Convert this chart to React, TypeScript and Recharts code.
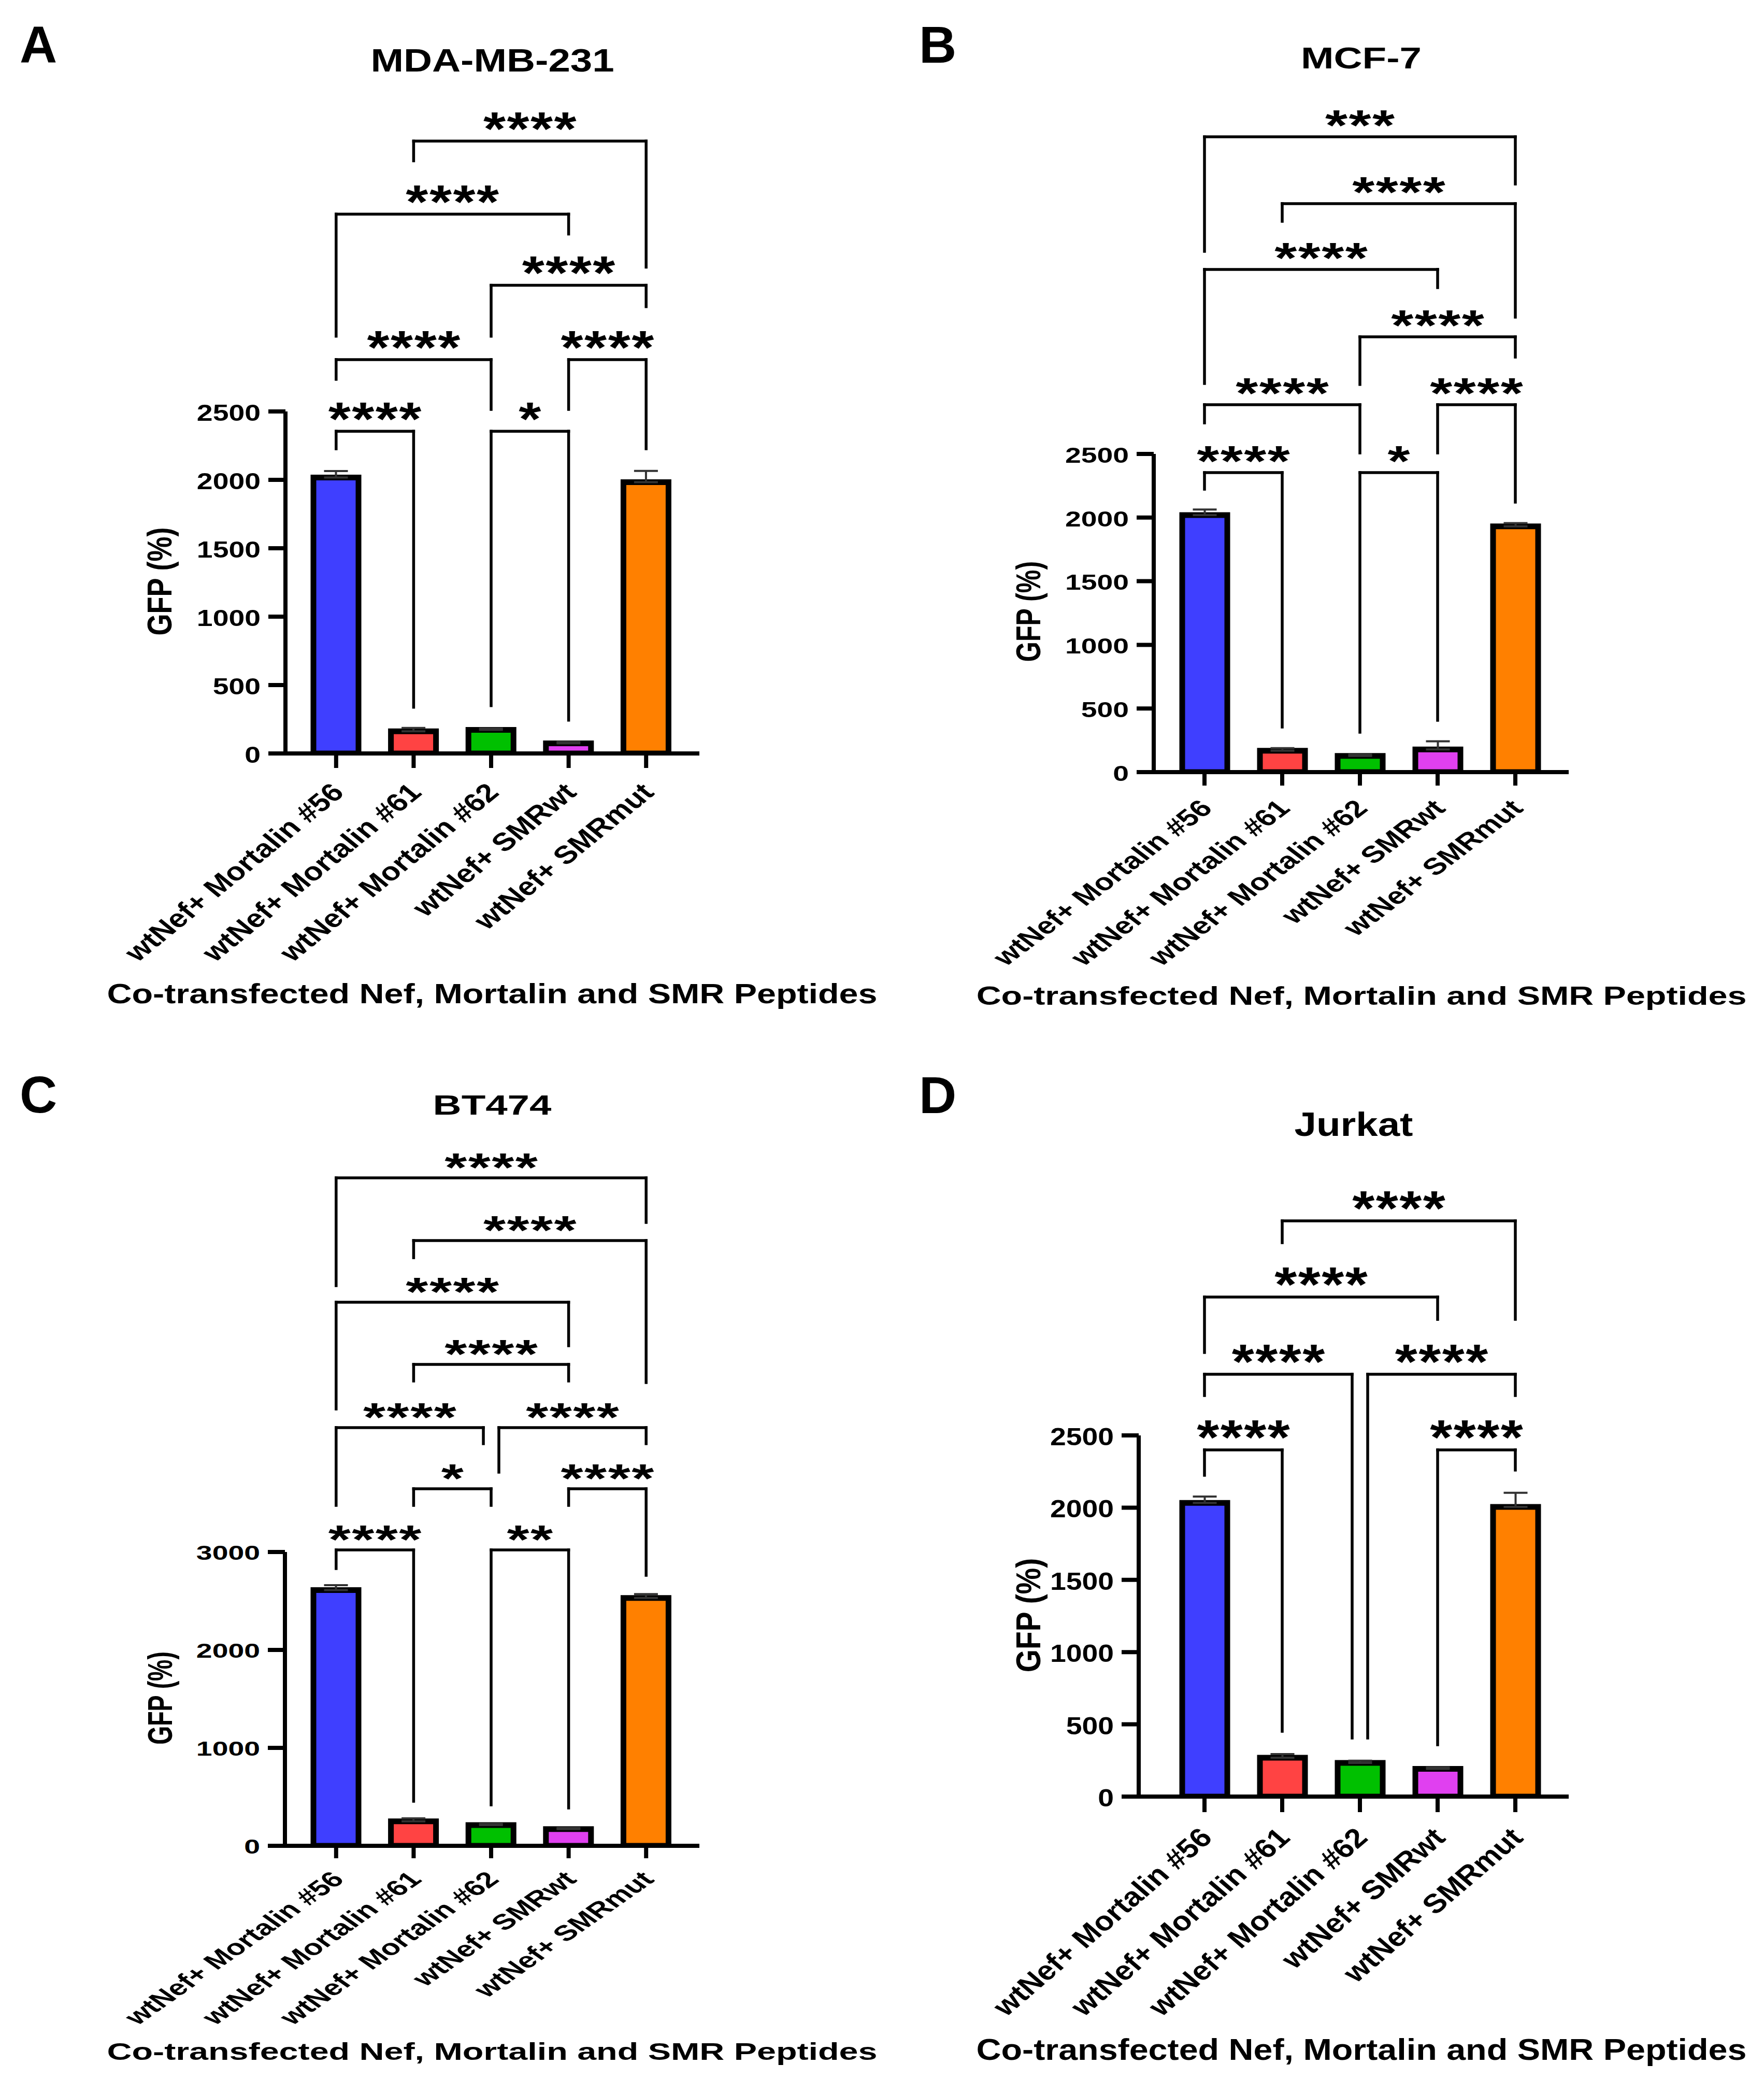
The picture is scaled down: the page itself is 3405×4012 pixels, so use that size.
import React from 'react';
import { BarChart, Bar, XAxis, YAxis, ErrorBar, ReferenceLine, Cell } from 'recharts';

// ---------------- data ----------------
const categories = [
  'wtNef+ Mortalin #56',
  'wtNef+ Mortalin #61',
  'wtNef+ Mortalin #62',
  'wtNef+ SMRwt',
  'wtNef+ SMRmut',
];

const mdaValues = [2017, 162, 172, 74, 1983];
const mdaErrors = [47, 25, 10, 10, 82];
const mcfValues = [2020, 168, 127, 178, 1931];
const mcfErrors = [43, 20, 10, 64, 25];
const btValues = [2611, 250, 212, 170, 2530];
const btErrors = [50, 30, 12, 12, 40];
const jurkatValues = [2033, 269, 233, 192, 2005];
const jurkatErrors = [44, 25, 15, 10, 98];

const ticks2500 = [0, 500, 1000, 1500, 2000, 2500];
const ticks3000 = [0, 1000, 2000, 3000];

// significance brackets: groups x1 -> x2 (with small shifts d1/d2 in group widths),
// bracket level y, leg ends b1 / b2
const mdaBrackets = [
  { x1: 0, x2: 1, d1: 0, d2: 0, y: 2355, b1: 2227, b2: 338, label: '****' },
  { x1: 0, x2: 2, d1: 0, d2: 0, y: 2879, b1: 2735, b2: 2515, label: '****' },
  { x1: 2, x2: 3, d1: 0, d2: 0, y: 2355, b1: 349, b2: 243, label: '*' },
  { x1: 3, x2: 4, d1: 0, d2: 0, y: 2879, b1: 2515, b2: 2227, label: '****' },
  { x1: 2, x2: 4, d1: 0, d2: 0, y: 3422, b1: 3050, b2: 3266, label: '****' },
  { x1: 0, x2: 3, d1: 0, d2: 0, y: 3942, b1: 3050, b2: 3797, label: '****' },
  { x1: 1, x2: 4, d1: 0, d2: 0, y: 4476, b1: 4332, b2: 3555, label: '****' },
];
const mcfBrackets = [
  { x1: 0, x2: 1, d1: 0, d2: 0, y: 2353, b1: 2223, b2: 354, label: '****' },
  { x1: 0, x2: 2, d1: 0, d2: 0, y: 2887, b1: 2744, b2: 2508, label: '****' },
  { x1: 2, x2: 3, d1: 0, d2: 0, y: 2353, b1: 314, b2: 407, label: '*' },
  { x1: 3, x2: 4, d1: 0, d2: 0, y: 2887, b1: 2508, b2: 2121, label: '****' },
  { x1: 2, x2: 4, d1: 0, d2: 0, y: 3420, b1: 3046, b2: 3261, label: '****' },
  { x1: 0, x2: 3, d1: 0, d2: 0, y: 3950, b1: 3054, b2: 3807, label: '****' },
  { x1: 1, x2: 4, d1: 0, d2: 0, y: 4467, b1: 4328, b2: 3575, label: '****' },
  { x1: 0, x2: 4, d1: 0, d2: 0, y: 4992, b1: 4092, b2: 4621, label: '***' },
];
const btBrackets = [
  { x1: 0, x2: 1, d1: 0, d2: 0, y: 3021, b1: 2831, b2: 455, label: '****' },
  { x1: 1, x2: 2, d1: 0, d2: 0, y: 3646, b1: 3476, b2: 3476, label: '*' },
  { x1: 2, x2: 3, d1: 0, d2: 0, y: 3021, b1: 418, b2: 386, label: '**' },
  { x1: 3, x2: 4, d1: 0, d2: 0, y: 3646, b1: 3476, b2: 2762, label: '****' },
  { x1: 0, x2: 2, d1: 0, d2: -0.1, y: 4270, b1: 3476, b2: 4106, label: '****' },
  { x1: 2, x2: 4, d1: 0.1, d2: 0, y: 4270, b1: 3815, b2: 4106, label: '****' },
  { x1: 1, x2: 3, d1: 0, d2: 0, y: 4915, b1: 4746, b2: 4746, label: '****' },
  { x1: 0, x2: 3, d1: 0, d2: 0, y: 5550, b1: 4460, b2: 5106, label: '****' },
  { x1: 1, x2: 4, d1: 0, d2: 0, y: 6180, b1: 6005, b2: 4730, label: '****' },
  { x1: 0, x2: 4, d1: 0, d2: 0, y: 6820, b1: 5720, b2: 6365, label: '****' },
];
const jurkatBrackets = [
  { x1: 0, x2: 1, d1: 0, d2: 0, y: 2400, b1: 2224, b2: 452, label: '****' },
  { x1: 0, x2: 2, d1: 0, d2: -0.1, y: 2923, b1: 2776, b2: 405, label: '****' },
  { x1: 2, x2: 4, d1: 0.1, d2: 0, y: 2923, b1: 405, b2: 2776, label: '****' },
  { x1: 3, x2: 4, d1: 0, d2: 0, y: 2400, b1: 359, b2: 2260, label: '****' },
  { x1: 0, x2: 3, d1: 0, d2: 0, y: 3458, b1: 3074, b2: 3303, label: '****' },
  { x1: 1, x2: 4, d1: 0, d2: 0, y: 3985, b1: 3834, b2: 3303, label: '****' },
];

// ---------------- styles ----------------
const barColors = ['#3F3FFF', '#FF4343', '#00C000', '#E040F0', '#FF8000'];
const FONT = '"Liberation Sans", Arial, Helvetica, sans-serif';
const K = 1.23; // horizontal text stretch of the original figure
const XH = 300;
const YW = 200;

const panels = [
  {
    key: 'A', letter: 'A', title: 'MDA-MB-231', left: 0, top: 0, width: 1700, height: 2000, vs: 1.0,
    plot: { l: 551, t: 794, r: 1350, b: 1454 }, pl: 23, pr: 28,
    titleY: 138, letterX: 38, letterY: 121, ylabX: 308, ylabY: 1122, xtitleY: 1936, xtitleX: 950,
    values: mdaValues, errors: mdaErrors, brackets: mdaBrackets, ticks: ticks2500, max: 2500,
  },
  {
    key: 'B', letter: 'B', title: 'MCF-7', left: 1700, top: 0, width: 1705, height: 2000, vs: 0.93,
    plot: { l: 527, t: 876, r: 1328, b: 1490 }, pl: 23, pr: 28,
    titleY: 132, letterX: 74, letterY: 121, ylabX: 285, ylabY: 1180, xtitleY: 1939, xtitleX: 928,
    values: mcfValues, errors: mcfErrors, brackets: mcfBrackets, ticks: ticks2500, max: 2500,
  },
  {
    key: 'C', letter: 'C', title: 'BT474', left: 0, top: 2000, width: 1700, height: 2012, vs: 0.86,
    plot: { l: 550, t: 995, r: 1350, b: 1562 }, pl: 24, pr: 28,
    titleY: 151, letterX: 38, letterY: 147, ylabX: 309, ylabY: 1277, xtitleY: 1975, xtitleX: 950,
    values: btValues, errors: btErrors, brackets: btBrackets, ticks: ticks3000, max: 3000,
  },
  {
    key: 'D', letter: 'D', title: 'Jurkat', left: 1700, top: 2000, width: 1705, height: 2012, vs: 1.055,
    plot: { l: 498, t: 770, r: 1328, b: 1467 }, pl: 52, pr: 28,
    titleY: 192, letterX: 74, letterY: 148, ylabX: 285, ylabY: 1117, xtitleY: 1975, xtitleX: 928,
    values: jurkatValues, errors: jurkatErrors, brackets: jurkatBrackets, ticks: ticks2500, max: 2500,
  },
];

const YTick = (props: any) => {
  const { x, y, payload, vs } = props;
  return (
    <g transform={`translate(${x},${y}) scale(${K},${vs})`}>
      <text x={0} y={0} dy={18} textAnchor="end" fontFamily={FONT} fontWeight="bold" fontSize={45} fill="#000">
        {payload.value}
      </text>
    </g>
  );
};

const XTick = (props: any) => {
  const { x, y, payload, vs, tickLen } = props;
  const dy = 78 * vs - tickLen;
  return (
    <g transform={`translate(${x + 18},${y + dy}) scale(${K},${vs}) rotate(-45)`}>
      <text x={0} y={0} textAnchor="end" fontFamily={FONT} fontWeight="bold" fontSize={49} fill="#000">
        {payload.value}
      </text>
    </g>
  );
};

const STAR_F = 90;
const STAR_LS = 2;
const StarLabel = (props: any) => {
  const vb = props.viewBox || {};
  const vs = props.vs || 1;
  const cx = (vb.x || 0) + (vb.width || 0) / 2 + (props.shift || 0);
  const ly = vb.y || 0;
  const base = ly + vs * (0.553 * STAR_F - 42);
  return (
    <g transform={`translate(${cx},${base}) scale(${K},${vs})`}>
      <text x={STAR_LS / 2} y={0} textAnchor="middle" fontFamily={FONT} fontWeight="bold" fontSize={STAR_F} letterSpacing={STAR_LS} fill="#000">
        {props.text}
      </text>
    </g>
  );
};

const LINE_W = 5.5;
const shiftedLine = (o1: number, o2: number) => (p: any) => (
  <line
    x1={p.x1 + o1}
    y1={p.y1}
    x2={p.x2 + o2}
    y2={p.y2}
    stroke="#000"
    strokeWidth={LINE_W}
    strokeLinecap="square"
  />
);

function Panel({ cfg }: { cfg: any }) {
  const { plot, width, height, pl, pr, vs } = cfg;
  const data = categories.map((name, i) => ({ name, value: cfg.values[i], err: [0, cfg.errors[i]] }));
  const plotW = plot.r - plot.l;
  const band = (plotW - pl - pr) / categories.length;
  const margin = { top: plot.t, right: width - plot.r, bottom: height - plot.b - XH, left: plot.l - YW };
  const plotCx = (plot.l + plot.r) / 2;
  const tickLen = Math.round(28 * vs);

  const refs: any[] = [];
  cfg.brackets.forEach((b: any, i: number) => {
    const c1 = categories[b.x1];
    const c2 = categories[b.x2];
    const o1 = b.d1 * band;
    const o2 = b.d2 * band;
    refs.push(
      <ReferenceLine
        key={`h${i}`}
        ifOverflow="visible"
        segment={[{ x: c1, y: b.y }, { x: c2, y: b.y }]}
        shape={shiftedLine(o1, o2)}
        label={(p: any) => <StarLabel {...p} text={b.label} shift={(o1 + o2) / 2} vs={vs} />}
      />
    );
    refs.push(
      <ReferenceLine key={`l${i}`} ifOverflow="visible" segment={[{ x: c1, y: b.y }, { x: c1, y: b.b1 }]} shape={shiftedLine(o1, o1)} />
    );
    refs.push(
      <ReferenceLine key={`r${i}`} ifOverflow="visible" segment={[{ x: c2, y: b.y }, { x: c2, y: b.b2 }]} shape={shiftedLine(o2, o2)} />
    );
  });

  return (
    <div style={{ position: 'absolute', left: cfg.left, top: cfg.top, width, height }}>
      <BarChart width={width} height={height} data={data} margin={margin}>
        <XAxis
          dataKey="name"
          type="category"
          height={XH}
          padding={{ left: pl, right: pr }}
          interval={0}
          tickSize={tickLen}
          tickMargin={0}
          axisLine={{ stroke: '#000', strokeWidth: 8 }}
          tickLine={{ stroke: '#000', strokeWidth: 8 }}
          tick={(p: any) => <XTick {...p} vs={vs} tickLen={tickLen} />}
        />
        <YAxis
          width={YW}
          type="number"
          domain={[0, cfg.max]}
          ticks={cfg.ticks}
          interval={0}
          allowDataOverflow
          tickSize={33}
          tickMargin={15}
          axisLine={{ stroke: '#000', strokeWidth: 8 }}
          tickLine={{ stroke: '#000', strokeWidth: 8 }}
          tick={(p: any) => <YTick {...p} vs={vs} />}
        />
        <Bar dataKey="value" barSize={87} stroke="#000" strokeWidth={11} isAnimationActive={false}>
          {data.map((d, i) => (
            <Cell key={d.name} fill={barColors[i]} />
          ))}
          <ErrorBar dataKey="err" width={23} stroke="#333" strokeWidth={4} isAnimationActive={false} />
        </Bar>
        {refs}
      </BarChart>
      <svg width={width} height={height} style={{ position: 'absolute', left: 0, top: 0, pointerEvents: 'none', overflow: 'visible' }}>
        <text x={cfg.letterX} y={cfg.letterY} fontFamily={FONT} fontWeight="bold" fontSize={100} fill="#000">
          {cfg.letter}
        </text>
        <g transform={`translate(${plotCx},${cfg.titleY}) scale(${K},${vs})`}>
          <text x={0} y={0} textAnchor="middle" fontFamily={FONT} fontWeight="bold" fontSize={62} fill="#000">
            {cfg.title}
          </text>
        </g>
        <g transform={`translate(${cfg.ylabX},${cfg.ylabY}) scale(${K},${vs}) rotate(-90)`}>
          <text x={0} y={19} textAnchor="middle" fontFamily={FONT} fontWeight="bold" fontSize={54} fill="#000">
            GFP (%)
          </text>
        </g>
        <g transform={`translate(${cfg.xtitleX},${cfg.xtitleY}) scale(${K},${vs})`}>
          <text x={0} y={0} textAnchor="middle" fontFamily={FONT} fontWeight="bold" fontSize={54} fill="#000">
            Co-transfected Nef, Mortalin and SMR Peptides
          </text>
        </g>
      </svg>
    </div>
  );
}

export default function App() {
  return (
    <div style={{ position: 'absolute', left: 0, top: 0, width: 3405, height: 4012, background: '#fff', overflow: 'hidden' }}>
      {panels.map((p) => (
        <Panel key={p.key} cfg={p} />
      ))}
    </div>
  );
}
